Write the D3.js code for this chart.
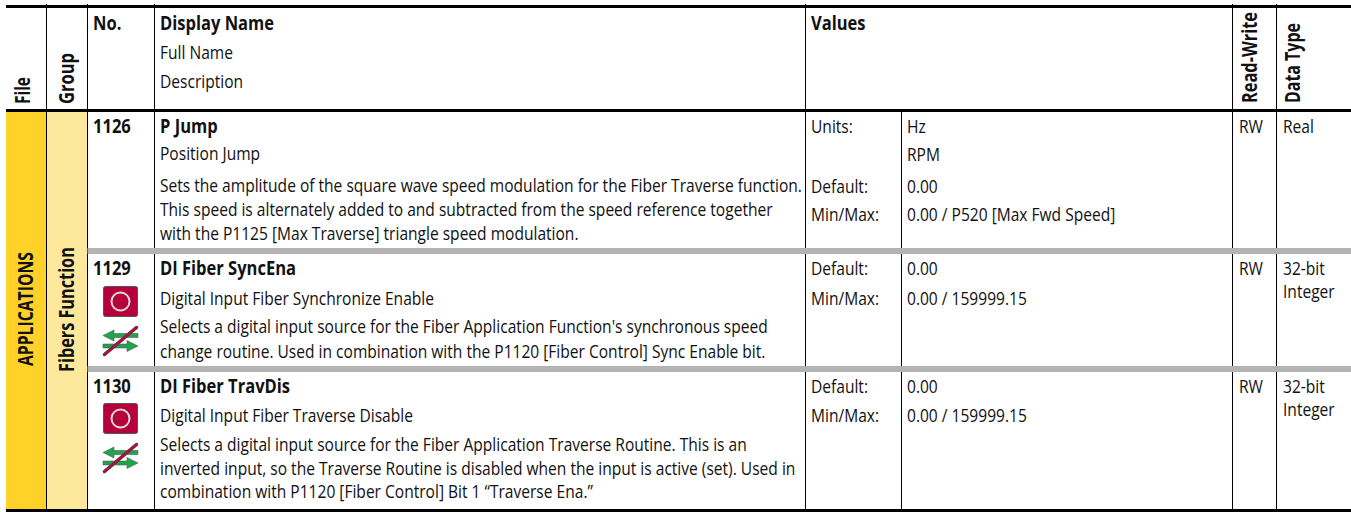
<!DOCTYPE html>
<html>
<head>
<meta charset="utf-8">
<script src="https://cdn.jsdelivr.net/npm/d3@7"></script>
<style>
body { margin: 0; background: #fff; }
text { font-family: "Open Sans", sans-serif; fill: #111; font-size: 18px; }
.b { font-weight: 700; font-size: 19px; }
</style>
</head>
<body>
<div id="chart"></div>
<script>
var width = 1351, height = 512;

var params = ["1126", "1129", "1130"];
var names = ["P Jump", "DI Fiber SyncEna", "DI Fiber TravDis"];
var fullNames = ["Position Jump", "Digital Input Fiber Synchronize Enable", "Digital Input Fiber Traverse Disable"];
var descriptions = [
    ["Sets the amplitude of the square wave speed modulation for the Fiber Traverse function.",
     "This speed is alternately added to and subtracted from the speed reference together",
     "with the P1125 [Max Traverse] triangle speed modulation."],
    ["Selects a digital input source for the Fiber Application Function's synchronous speed",
     "change routine. Used in combination with the P1120 [Fiber Control] Sync Enable bit."],
    ["Selects a digital input source for the Fiber Application Traverse Routine. This is an",
     "inverted input, so the Traverse Routine is disabled when the input is active (set). Used in",
     "combination with P1120 [Fiber Control] Bit 1 \u201cTraverse Ena.\u201d"]
];
var valueLabels = [["Units:", "", "Default:", "Min/Max:"], ["Default:", "Min/Max:"], ["Default:", "Min/Max:"]];
var valueTexts = [["Hz", "RPM", "0.00", "0.00 / P520 [Max Fwd Speed]"], ["0.00", "0.00 / 159999.15"], ["0.00", "0.00 / 159999.15"]];
var access = ["RW", "RW", "RW"];
var dataTypes = [["Real"], ["32-bit", "Integer"], ["32-bit", "Integer"]];

var svg = d3.select("#chart").append("svg")
        .attr("width", width)
        .attr("height", height)
        .style("display", "block");

var colX = {file: 6, group: 46.5, no: 87.5, name: 154.5, values: 805.5, val2: 901.5, rw: 1232.5, type: 1276.5, end: 1351};
var regularScale = 0.865, boldScale = 0.87;

function vline(x, y1, y2) {
    svg.append("rect").attr("x", x - 0.5).attr("y", y1).attr("width", 1).attr("height", y2 - y1).attr("fill", "#000");
}
function label(x, y, s, bold) {
    var sx = bold ? boldScale : regularScale;
    return svg.append("text")
            .attr("transform", "translate(" + x + "," + y + ") scale(" + sx + ",1)")
            .attr("class", bold ? "b" : null)
            .text(s);
}
// rotated heading, squeezed to the length it has in the picture
function rotated(x, y, s, size, len) {
    var t = svg.append("text").attr("class", "b").style("font-size", size + "px").text(s);
    var sx = len / t.node().getComputedTextLength();
    t.attr("transform", "translate(" + x + "," + y + ") rotate(-90) scale(" + sx + ",1)");
    return t;
}

svg.append("rect").attr("x", colX.file).attr("y", 110).attr("width", colX.group - colX.file).attr("height", 400).attr("fill", "#ffd129");
svg.append("rect").attr("x", colX.group).attr("y", 110).attr("width", colX.no - colX.group).attr("height", 400).attr("fill", "#fee89b");

[colX.group, colX.no, colX.name, colX.values, colX.rw, colX.type].forEach(function (x) {
    vline(x, 4, 510);
});
vline(colX.val2, 110, 510);

// rules
svg.append("rect").attr("x", colX.no).attr("y", 248).attr("width", colX.end - colX.no).attr("height", 6).attr("fill", "#b3b3b3");
svg.append("rect").attr("x", colX.no).attr("y", 366).attr("width", colX.end - colX.no).attr("height", 6).attr("fill", "#b3b3b3");
svg.append("rect").attr("x", colX.file).attr("y", 5).attr("width", colX.end - colX.file).attr("height", 3).attr("fill", "#000");
svg.append("rect").attr("x", colX.file).attr("y", 109).attr("width", colX.end - colX.file).attr("height", 3).attr("fill", "#000");
svg.append("rect").attr("x", colX.file).attr("y", 509).attr("width", colX.end - colX.file).attr("height", 3).attr("fill", "#000");

// header
rotated(30, 104, "File", 21, 27);
rotated(74, 104, "Group", 21, 51);
label(93, 30, "No.", true);
label(160, 30, "Display Name", true);
label(160, 59, "Full Name");
label(160, 88, "Description");
label(811, 30, "Values", true);
rotated(1257, 103, "Read-Write", 21, 91);
rotated(1300, 103, "Data Type", 21, 80);
rotated(33, 366, "APPLICATIONS", 21, 114);
rotated(74, 372, "Fibers Function", 21, 125);

var rowBase = [133, 275, 393];
var descBase = [[192, 216, 240], [333, 358], [451, 475, 498]];
var fullBase = [160, 305, 422];
var valBase = [[133, 161, 193, 221], [275, 305], [393, 422]];

params.forEach(function (p, i) {
    label(93, rowBase[i], p, true);
    label(160, rowBase[i], names[i], true);
    label(160, fullBase[i], fullNames[i]);
    descriptions[i].forEach(function (s, j) { label(160, descBase[i][j], s); });
    valueLabels[i].forEach(function (s, j) { label(811, valBase[i][j], s); });
    valueTexts[i].forEach(function (s, j) { label(907, valBase[i][j], s); });
    label(1239, rowBase[i], access[i]);
    dataTypes[i].forEach(function (s, j) { label(1283, rowBase[i] + j * 23, s); });
});

// icons
function stopIcon(y) {
    var g = svg.append("g").attr("transform", "translate(103.5," + y + ")");
    g.append("rect").attr("width", 34).attr("height", 30).attr("rx", 2).attr("fill", "#b5003c").attr("stroke", "#555").attr("stroke-width", 1);
    g.append("circle").attr("cx", 17).attr("cy", 15).attr("r", 9).attr("fill", "none").attr("stroke", "#ddd").attr("stroke-width", 2);
}
function arrowIcon(y) {
    var g = svg.append("g").attr("transform", "translate(103," + y + ")");
    g.append("path").attr("d", "M0,9.5 L11,4 L11,7.5 L35,7.5 L35,11.5 L11,11.5 L11,15 Z").attr("fill", "#1ea64d").attr("stroke", "#444").attr("stroke-width", 0.5);
    g.append("path").attr("d", "M35,20 L24,14.5 L24,18 L0,18 L0,22 L24,22 L24,25.5 Z").attr("fill", "#1ea64d").attr("stroke", "#444").attr("stroke-width", 0.5);
    g.append("line").attr("x1", 1.5).attr("y1", 28.5).attr("x2", 33.5).attr("y2", 1.5).attr("stroke", "#444").attr("stroke-width", 3.5).attr("stroke-linecap", "round");
    g.append("line").attr("x1", 1.5).attr("y1", 28.5).attr("x2", 33.5).attr("y2", 1.5).attr("stroke", "#a8123f").attr("stroke-width", 2.5).attr("stroke-linecap", "round");
}
stopIcon(286.5); arrowIcon(326);
stopIcon(403.5); arrowIcon(443);
</script>
</body>
</html>
